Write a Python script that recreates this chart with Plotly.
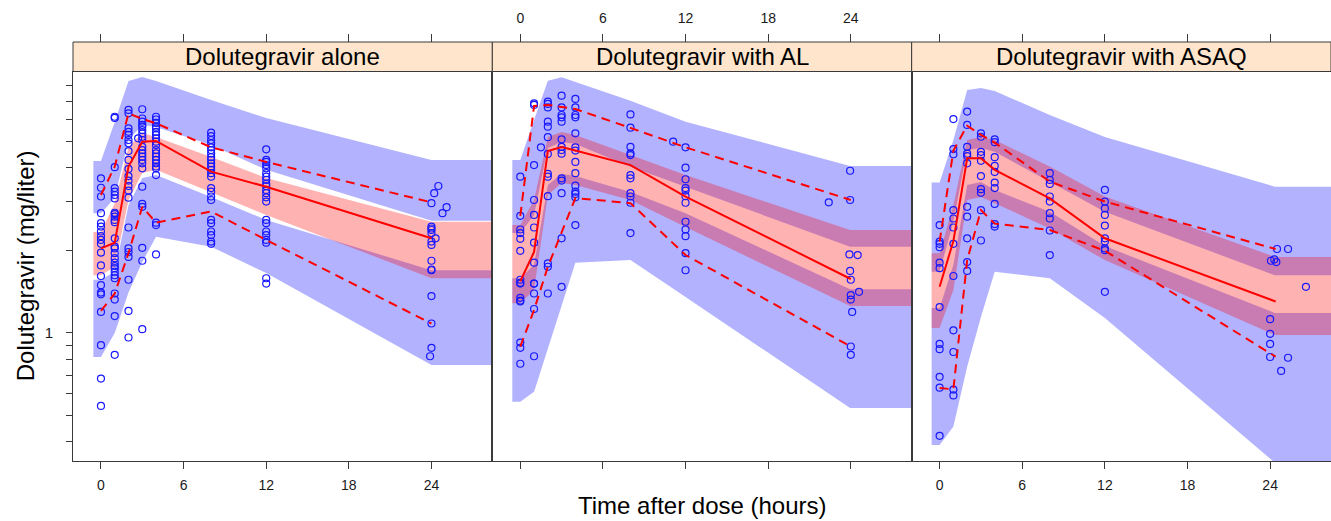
import plotly.graph_objects as go

# ---------------- data ----------------
panel_titles = ["Dolutegravir alone", "Dolutegravir with AL", "Dolutegravir with ASAQ"]
x_ticks = [0, 6, 12, 18, 24]
y_ticks = [0.4, 0.5, 0.6, 0.7, 0.8, 0.9, 1, 2, 3, 4, 5, 6, 7, 8, 9]
y_tick_text = ["", "", "", "", "", "", "1", "", "", "", "", "", "", "", ""]

# prediction-interval band time grids
band_t1 = [-0.55, 0, 1, 2, 3, 4, 8, 12, 24, 30]
band_t2 = [-0.58, 0, 1, 2, 3, 4, 8, 12, 23.95, 30]
band_t3 = [-0.58, 0, 1, 2, 3, 4, 8, 12, 24.35, 30]

# panel 1 bands (95th CI, median CI, 5th CI)
p1_hi_top = [4.23, 4.23, 5.87, 8.29, 8.58, 8.29, 7.07, 6.07, 4.27, 4.27]
p1_hi_bot = [2.73, 2.73, 3.10, 5.05, 5.73, 5.63, 4.84, 3.93, 2.56, 2.56]
p1_md_top = [2.33, 2.33, 2.97, 4.76, 5.36, 5.18, 4.38, 3.67, 2.54, 2.54]
p1_md_bot = [1.62, 1.62, 1.74, 3.05, 3.83, 3.93, 3.26, 2.69, 1.58, 1.58]
p1_lo_top = [1.56, 1.56, 1.67, 2.92, 3.67, 3.76, 3.13, 2.58, 1.69, 1.69]
p1_lo_bot = [0.815, 0.815, 0.997, 1.40, 1.81, 2.24, 2.06, 1.65, 0.762, 0.762]

# panel 2 bands
p2_hi_top = [4.27, 4.27, 5.97, 8.31, 8.55, 8.22, 7.03, 5.89, 4.06, 4.06]
p2_hi_bot = [2.31, 2.31, 2.69, 4.72, 4.97, 4.88, 4.03, 3.40, 2.06, 2.06]
p2_md_top = [2.47, 2.47, 3.05, 5.18, 5.40, 5.27, 4.45, 3.76, 2.37, 2.37]
p2_md_bot = [1.28, 1.28, 1.43, 3.18, 3.52, 3.46, 3.05, 2.43, 1.25, 1.25]
p2_lo_top = [1.58, 1.58, 1.77, 3.46, 3.80, 3.73, 3.26, 2.73, 1.44, 1.44]
p2_lo_bot = [0.559, 0.559, 0.608, 0.880, 1.26, 1.80, 1.84, 1.35, 0.531, 0.531]

# panel 3 bands
p3_hi_top = [3.53, 3.53, 5.05, 7.69, 7.82, 7.62, 6.23, 5.18, 3.41, 3.41]
p3_hi_bot = [1.67, 1.67, 2.54, 4.64, 4.72, 4.57, 3.56, 2.76, 1.62, 1.62]
p3_md_top = [1.95, 1.95, 2.92, 5.05, 5.18, 5.05, 4.04, 3.14, 1.89, 1.89]
p3_md_bot = [1.04, 1.04, 1.43, 3.05, 3.13, 2.97, 2.40, 1.84, 0.981, 0.981]
p3_lo_top = [1.23, 1.23, 1.77, 3.46, 3.55, 3.32, 2.76, 2.07, 1.18, 1.18]
p3_lo_bot = [0.389, 0.389, 0.454, 0.751, 1.14, 1.67, 1.58, 1.13, 0.335, 0.335]

# observed percentile lines
line_t1 = [0, 1, 2, 3, 4, 8, 12, 24]
line_t2 = [0, 1, 2, 3, 4, 8, 12, 24]
line_t3 = [0, 1, 2, 3, 4, 8, 12, 24.4]
p1_med = [2.03, 2.13, 4.04, 4.98, 5.01, 3.87, 3.41, 2.21]
p1_p95 = [3.18, 4.04, 6.32, 6.03, 5.81, 4.75, 4.20, 2.99]
p1_p05 = [1.20, 1.39, 1.95, 2.88, 2.52, 2.77, 2.18, 1.08]
p2_med = [1.54, 1.97, 4.60, 4.76, 4.62, 4.09, 3.14, 1.57]
p2_p95 = [2.67, 6.72, 6.78, 6.65, 6.55, 5.59, 4.75, 3.05]
p2_p05 = [0.889, 1.21, 1.74, 2.33, 3.10, 2.97, 1.92, 0.89]
p3_med = [1.47, 2.16, 4.33, 4.33, 3.93, 3.09, 2.21, 1.30]
p3_p95 = [2.15, 4.62, 5.70, 5.27, 4.94, 3.56, 3.01, 2.02]
p3_p05 = [0.628, 0.621, 1.84, 2.80, 2.50, 2.37, 1.99, 0.817]

# observed concentrations, grouped by nominal time
p1_obs_times = [0, 1, 2, 2.7, 3, 4, 8, 12]
p1_obs_vals = [
    [3.66, 3.38, 3.14, 2.73, 2.51, 2.44, 2.34, 2.25, 2.18, 2.11, 1.96, 1.76, 1.61, 1.49, 1.40, 1.38, 1.19, 0.90, 0.68, 0.54],
    [6.14, 6.08, 4.02, 3.37, 3.27, 3.18, 3.09, 2.74, 2.71, 2.65, 2.58, 2.53, 2.21, 2.06, 2.03, 1.95, 1.87, 1.80, 1.75, 1.72, 1.67, 1.62, 1.58, 1.39, 1.32, 1.15, 0.83],
    [6.50, 6.32, 5.57, 5.41, 5.27, 5.05, 4.91, 4.60, 4.27, 3.96, 3.73, 3.59, 3.43, 3.30, 3.11, 2.42, 2.03, 1.97, 1.89, 1.56, 1.20, 0.96],
    [5.12],
    [6.54, 6.05, 5.89, 5.73, 5.65, 5.49, 5.34, 5.19, 5.05, 4.77, 4.64, 4.51, 4.39, 4.27, 4.15, 3.98, 3.41, 2.95, 2.88, 2.04, 1.83, 1.03],
    [6.14, 6.00, 5.83, 5.65, 5.57, 5.41, 5.27, 5.12, 4.98, 4.84, 4.64, 4.51, 4.39, 4.27, 4.15, 4.04, 3.98, 3.76, 2.52, 2.47, 1.93],
    [5.37, 5.22, 5.05, 4.91, 4.75, 4.64, 4.51, 4.37, 4.27, 4.15, 4.04, 3.93, 3.82, 3.71, 3.37, 3.27, 3.14, 3.05, 2.58, 2.51, 2.34, 2.27, 2.15, 2.11],
    [4.67, 4.27, 4.20, 4.09, 3.98, 3.82, 3.71, 3.61, 3.49, 3.43, 3.32, 3.23, 3.12, 3.01, 2.58, 2.51, 2.34, 2.27, 2.18, 2.13, 1.58, 1.51],
]
p1_late_t = [24.5, 24.2, 24.0, 25.1, 24.8, 24.0, 24.0, 24.0, 24.0, 24.3, 24.0, 24.0, 24.0, 24.0, 24.0, 24.0, 24.0, 24.0, 23.9]
p1_late_c = [3.43, 3.23, 2.97, 2.87, 2.73, 2.44, 2.40, 2.37, 2.31, 2.21, 2.15, 2.09, 1.83, 1.70, 1.69, 1.36, 1.08, 0.88, 0.82]

p2_obs_times = [0, 1, 1.5, 2, 3, 4, 8, 11.1, 12]
p2_obs_vals = [
    [3.71, 2.67, 2.38, 2.31, 2.20, 1.99, 1.56, 1.52, 1.51, 1.34, 1.31, 1.30, 0.92, 0.88, 0.77],
    [6.87, 6.78, 4.09, 3.05, 2.69, 2.42, 2.13, 1.80, 1.51, 1.51, 1.39, 1.22, 0.82],
    [4.75],
    [6.97, 6.84, 6.64, 5.89, 5.65, 5.17, 4.49, 3.80, 3.71, 3.15, 1.79, 1.74, 1.39],
    [7.33, 6.64, 6.23, 6.11, 5.89, 5.08, 4.77, 4.64, 4.50, 3.66, 3.59, 3.23, 2.21, 1.47],
    [7.13, 6.64, 6.23, 6.11, 5.34, 4.75, 4.62, 4.20, 3.82, 3.44, 3.27, 3.21, 3.12, 2.47],
    [6.26, 5.60, 4.77, 4.51, 4.45, 3.76, 3.66, 3.23, 3.14, 2.98, 2.31],
    [4.98],
    [4.75, 4.00, 3.63, 3.37, 3.30, 3.15, 2.98, 2.54, 2.38, 2.25, 1.95, 1.69],
]
p2_late_t = [23.95, 23.95, 23.9, 24.5, 23.95, 24.0, 24.6, 24.0, 24.0, 24.1, 24.0, 24.0, 22.4]
p2_late_c = [3.90, 3.05, 1.93, 1.92, 1.68, 1.56, 1.41, 1.37, 1.32, 1.19, 0.89, 0.83, 2.99]

p3_obs_times = [0, 1, 2, 3, 4, 8, 12]
p3_obs_vals = [
    [2.47, 2.15, 2.11, 2.05, 1.80, 1.72, 1.24, 0.91, 0.87, 0.69, 0.63, 0.42],
    [6.02, 4.68, 4.48, 2.80, 2.61, 2.42, 2.11, 1.61, 1.02, 0.85, 0.62, 0.59],
    [6.41, 5.73, 4.77, 4.50, 4.41, 4.15, 2.88, 2.65, 2.21, 1.81, 1.68],
    [5.34, 5.19, 4.57, 4.45, 4.24, 3.73, 3.34, 3.24, 2.80, 2.17],
    [5.08, 4.96, 4.37, 4.06, 3.86, 3.53, 3.37, 2.95, 2.49, 2.44],
    [3.82, 3.61, 3.49, 3.14, 3.01, 2.73, 2.61, 2.36, 1.92],
    [3.32, 3.01, 2.84, 2.69, 2.46, 2.21, 2.15, 2.03, 2.00, 1.41],
]
p3_late_t = [24.5, 25.3, 24.06, 24.3, 24.45, 26.6, 24.0, 24.0, 24.0, 24.0, 25.3, 24.8]
p3_late_c = [2.02, 2.02, 1.83, 1.85, 1.81, 1.47, 1.12, 0.99, 0.91, 0.815, 0.81, 0.725]

# ---------------- style ----------------
BLUE_BAND = "rgba(0,0,255,0.30)"
PINK_BAND = "rgba(255,0,0,0.30)"
PT_COL = "rgb(25,25,255)"
LINE_COL = "rgb(255,0,0)"
AX = "#3a3a3a"
TXT = "#1a1a1a"
FONT = "Liberation Sans, Arial, sans-serif"

W, H = 1331, 521
ML, MR, MT, MB = 73, 0, 42, 60
YTOP = 389.5 / (H - MT - MB)
XR = [-2.03, 28.42]
YR = [-0.4685, 0.9533]

panels = [
    dict(bt=band_t1, bands=[(p1_hi_top, p1_hi_bot, BLUE_BAND), (p1_lo_top, p1_lo_bot, BLUE_BAND), (p1_md_top, p1_md_bot, PINK_BAND)],
         lt=line_t1, med=p1_med, hi=p1_p95, lo=p1_p05, ot=p1_obs_times, ov=p1_obs_vals, lat=p1_late_t, lac=p1_late_c),
    dict(bt=band_t2, bands=[(p2_hi_top, p2_hi_bot, BLUE_BAND), (p2_lo_top, p2_lo_bot, BLUE_BAND), (p2_md_top, p2_md_bot, PINK_BAND)],
         lt=line_t2, med=p2_med, hi=p2_p95, lo=p2_p05, ot=p2_obs_times, ov=p2_obs_vals, lat=p2_late_t, lac=p2_late_c),
    dict(bt=band_t3, bands=[(p3_hi_top, p3_hi_bot, BLUE_BAND), (p3_lo_top, p3_lo_bot, BLUE_BAND), (p3_md_top, p3_md_bot, PINK_BAND)],
         lt=line_t3, med=p3_med, hi=p3_p95, lo=p3_p05, ot=p3_obs_times, ov=p3_obs_vals, lat=p3_late_t, lac=p3_late_c),
]

fig = go.Figure()
sfx = ["", "2", "3"]
for i, p in enumerate(panels):
    xa, ya = "x" + sfx[i], "y" + sfx[i]
    t = p["bt"]
    for top, bot, col in p["bands"]:
        fig.add_trace(go.Scatter(x=t + t[::-1], y=top + bot[::-1], fill="toself", fillcolor=col,
                                 mode="lines", line=dict(width=0), xaxis=xa, yaxis=ya,
                                 hoverinfo="skip", showlegend=False))
    xs, ys = [], []
    for tt, vals in zip(p["ot"], p["ov"]):
        xs += [tt] * len(vals)
        ys += vals
    xs += p["lat"]
    ys += p["lac"]
    fig.add_trace(go.Scatter(x=xs, y=ys, mode="markers", xaxis=xa, yaxis=ya,
                             marker=dict(symbol="circle-open", size=7, color=PT_COL, line=dict(width=1.2, color=PT_COL)),
                             hoverinfo="skip", showlegend=False))
    fig.add_trace(go.Scatter(x=p["lt"], y=p["med"], mode="lines", xaxis=xa, yaxis=ya,
                             line=dict(color=LINE_COL, width=2), showlegend=False))
    for q in (p["hi"], p["lo"]):
        fig.add_trace(go.Scatter(x=p["lt"], y=q, mode="lines", xaxis=xa, yaxis=ya,
                                 line=dict(color=LINE_COL, width=2, dash="9px,6px"), showlegend=False))
    # dummy trace to register the top tick axis
    fig.add_trace(go.Scatter(x=[None], y=[None], xaxis="x" + str(4 + i), yaxis=ya,
                             mode="markers", showlegend=False, hoverinfo="skip"))

layout = dict(
    width=W, height=H,
    margin=dict(l=ML, r=MR, t=MT, b=MB, pad=0),
    paper_bgcolor="white", plot_bgcolor="white",
    font=dict(family=FONT, color=TXT),
    showlegend=False, hovermode=False,
)
shapes, annotations = [], []
for i in range(3):
    s = sfx[i]
    layout["xaxis" + s] = dict(domain=[i / 3, (i + 1) / 3], range=XR, anchor="y" + s,
                               tickvals=x_ticks, ticks="outside", ticklen=7, tickwidth=1, tickcolor=AX,
                               showline=True, linecolor=AX, linewidth=1, mirror=True,
                               showgrid=False, zeroline=False, showticklabels=(i != 1),
                               ticklabelstandoff=4, tickfont=dict(size=14, color=TXT))
    yax = dict(domain=[0, YTOP], type="log", range=YR, anchor="x" + s,
               showline=True, linecolor=AX, linewidth=1, mirror=True,
               showgrid=False, zeroline=False)
    if i == 0:
        yax.update(tickvals=y_ticks, ticktext=y_tick_text, ticks="outside", ticklen=6,
                   tickcolor=AX, tickwidth=1, ticklabelstandoff=10, tickfont=dict(size=15, color=TXT))
    else:
        yax.update(matches="y", ticks="", showticklabels=False)
    layout["yaxis" + s] = yax
    layout["xaxis" + str(4 + i)] = dict(overlaying="x" + s, anchor="free", position=1, side="top",
                                        range=XR, tickvals=x_ticks, ticks="outside", ticklen=8,
                                        tickwidth=1, tickcolor=AX, showline=False, showgrid=False,
                                        zeroline=False, showticklabels=(i == 1), ticklabelstandoff=5,
                                        tickfont=dict(size=14, color=TXT))
    shapes.append(dict(type="rect", xref="x" + s + " domain", yref="paper", x0=0, x1=1, y0=YTOP, y1=1,
                       fillcolor="#FFE5CC", line=dict(color=AX, width=1), layer="above"))
    annotations.append(dict(text=panel_titles[i], xref="x" + s + " domain", yref="paper", x=0.5,
                            y=(YTOP + 1) / 2, xanchor="center", yanchor="middle", showarrow=False,
                            font=dict(size=24, color="black", family=FONT)))

annotations.append(dict(text="Dolutegravir (mg/liter)", xref="paper", yref="paper",
                        x=(25 - ML) / (W - ML - MR), y=YTOP / 2, textangle=-90,
                        xanchor="center", yanchor="middle", showarrow=False,
                        font=dict(size=24, color="black", family=FONT)))
annotations.append(dict(text="Time after dose (hours)", xref="paper", yref="paper",
                        x=0.5, y=-(505 - (H - MB)) / (H - MT - MB),
                        xanchor="center", yanchor="middle", showarrow=False,
                        font=dict(size=24, color="black", family=FONT)))
layout["shapes"] = shapes
layout["annotations"] = annotations
fig.update_layout(**layout)
fig.write_html("out.html")
